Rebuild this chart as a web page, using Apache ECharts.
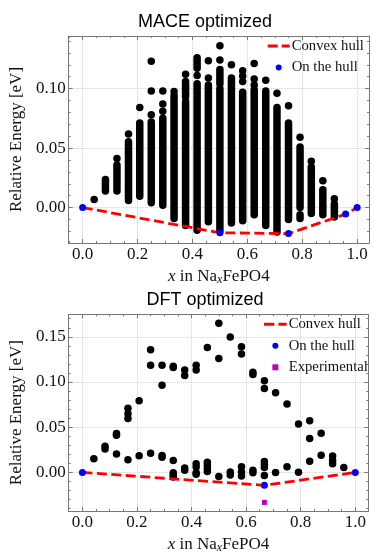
<!DOCTYPE html>
<html>
<head>
<meta charset="utf-8">
<script src="https://cdn.jsdelivr.net/npm/echarts@6/dist/echarts.min.js"></script>
<style>
  html, body { margin: 0; padding: 0; background: #fff; }
  #chart { width: 372px; height: 555px; }
</style>
</head>
<body>
<div id="chart"></div>
<script>
// MACE optimized: dense columns are drawn as runs (low..high), plus loose points
const maceRunX    = [0.083, 0.125, 0.167, 0.208, 0.25, 0.292, 0.333, 0.375, 0.375, 0.417, 0.417, 0.458, 0.5, 0.5, 0.542, 0.583, 0.625, 0.667, 0.708, 0.75, 0.792, 0.792, 0.833, 0.875, 0.917];
const maceRunLow  = [0.014, 0.014, 0.006, 0.0095, 0.004, 0.002, -0.0093, 0.093, -0.015, 0.117, -0.019, -0.012, 0.104, -0.020, -0.013, -0.011, -0.006, -0.015, -0.0205, -0.010, 0.000, -0.0093, -0.0051, -0.006, -0.0079];
const maceRunHigh = [0.0236, 0.0357, 0.0553, 0.071, 0.072, 0.075, 0.094, 0.106, 0.089, 0.126, 0.104, 0.103, 0.116, 0.100, 0.109, 0.097, 0.099, 0.098, 0.084, 0.071, 0.051, -0.006, 0.034, 0.015, 0.003];

const maceDotX = [0.042, 0.125, 0.167, 0.208, 0.25, 0.25, 0.25, 0.292, 0.292, 0.292, 0.333, 0.375, 0.417, 0.458, 0.458, 0.5, 0.5, 0.542, 0.583, 0.583, 0.583, 0.625, 0.625, 0.625, 0.667, 0.708, 0.75, 0.792, 0.833, 0.875, 0.917];
const maceDotY = [0.0067, 0.0413, 0.0618, 0.084, 0.123, 0.098, 0.078, 0.098, 0.087, 0.081, 0.0975, 0.112, 0.111, 0.1235, 0.109, 0.136, 0.124, 0.120, 0.115, 0.1105, 0.106, 0.121, 0.108, 0.103, 0.107, 0.096, 0.0855, 0.059, 0.039, 0.0225, 0.0075];

const maceHullX = [0, 0.5, 0.75, 0.958, 1];
const maceHullY = [0, -0.0212, -0.0219, -0.0055, 0];

// DFT optimized
const dftX = [0.042, 0.083, 0.083, 0.125, 0.125, 0.125, 0.167, 0.167, 0.167, 0.167, 0.208, 0.208,
  0.25, 0.25, 0.25, 0.292, 0.292, 0.292, 0.292, 0.333, 0.333, 0.333, 0.333, 0.333, 0.333,
  0.375, 0.375, 0.375, 0.375, 0.417, 0.417, 0.417, 0.417, 0.417, 0.417, 0.458, 0.458, 0.458, 0.458, 0.458,
  0.5, 0.5, 0.5, 0.542, 0.542, 0.542, 0.583, 0.583, 0.583, 0.583, 0.583, 0.625, 0.625, 0.625, 0.625,
  0.667, 0.667, 0.667, 0.667, 0.667, 0.667, 0.708, 0.708, 0.75, 0.75, 0.792, 0.792,
  0.833, 0.833, 0.833, 0.875, 0.875, 0.917, 0.917, 0.917, 0.958];
const dftY = [0.015, 0.029, 0.026, 0.043, 0.041, 0.0204, 0.0711, 0.065, 0.0597, 0.0139, 0.0793, 0.0185,
  0.1356, 0.1186, 0.0211, 0.1186, 0.0965, 0.0186, 0.0168, 0.1175, 0.116, 0.0133, -0.0004, -0.0029, -0.005,
  0.1133, 0.1072, 0.005, 0.0025, 0.1186, 0.1133, 0.0096, 0.0061, -0.0004, -0.002, 0.1383, 0.0112, 0.008, 0.0045, 0.001,
  0.1651, 0.126, -0.0046, 0.1497, 0.0005, -0.0029, 0.1389, 0.1311, 0.0062, 0.0005, -0.004, 0.1107, 0.1082, 0.0025, -0.0004,
  0.1013, 0.0927, 0.0121, 0.0089, 0.0054, -0.0035, 0.0882, -0.0002, 0.0757, 0.0062, 0.0536, 0.0002,
  0.0572, 0.0375, 0.0124, 0.0434, 0.0191, 0.0181, 0.0132, 0.0096, 0.0054];

const dftHullX = [0, 0.667, 1];
const dftHullY = [0, -0.0143, 0];
const expX = [0.667];
const expY = [-0.0332];

const serif = "Liberation Serif";
const frame = "#777";
const ink = "#111";

const zip = (xs, ys) => xs.map((x, i) => [x, ys[i]]);
const onStep = (v, step) => Math.abs(v / step - Math.round(v / step)) < 1e-6;

function xAxes(grid, min, max) {
  const common = {
    type: "value", gridIndex: grid, min, max,
    splitNumber: 5, minInterval: 0.2, maxInterval: 0.2,
    axisLine: { show: true, onZero: false, lineStyle: { color: frame, width: 1 } },
    axisTick: { show: true, inside: true, length: 4, lineStyle: { color: frame } },
    minorTick: { show: true, splitNumber: 4, length: 2, lineStyle: { color: frame } },
  };
  return [
    {
      ...common, position: "bottom",
      axisLabel: {
        margin: 3, color: ink, fontFamily: serif, fontSize: 17,
        formatter: (v) => (onStep(v, 0.2) ? v.toFixed(1) : ""),
      },
      splitLine: { show: true, lineStyle: { color: "#cfcfcf", type: "dotted", width: 1 } },
      name: "{i|x} in Na{s|x}FePO4", nameLocation: "middle", nameGap: 24,
      nameTextStyle: {
        color: ink, fontFamily: serif, fontSize: 17,
        rich: {
          i: { fontStyle: "italic", fontFamily: serif, fontSize: 17, color: ink },
          s: { fontStyle: "italic", fontFamily: serif, fontSize: 12, color: ink, padding: [7, 0, 0, 0] },
        },
      },
    },
    { ...common, position: "top", axisLabel: { show: false }, splitLine: { show: false } },
  ];
}

function yAxes(grid, min, max) {
  const common = {
    type: "value", gridIndex: grid, min, max,
    splitNumber: 4, minInterval: 0.05, maxInterval: 0.05,
    axisLine: { show: true, onZero: false, lineStyle: { color: frame, width: 1 } },
    axisTick: { show: true, inside: true, length: 4, lineStyle: { color: frame } },
    minorTick: { show: true, splitNumber: 5, length: 2, lineStyle: { color: frame } },
  };
  return [
    {
      ...common, position: "left",
      axisLabel: {
        margin: 3, color: ink, fontFamily: serif, fontSize: 17,
        formatter: (v) => (onStep(v, 0.05) ? v.toFixed(2) : ""),
      },
      splitLine: { show: true, lineStyle: { color: "#cfcfcf", type: "dotted", width: 1 } },
      name: "Relative Energy [eV]", nameLocation: "middle", nameGap: 36,
      nameTextStyle: { color: ink, fontFamily: serif, fontSize: 17 },
    },
    { ...common, position: "right", axisLabel: { show: false }, splitLine: { show: false } },
  ];
}

const hullLine = { width: 2.8, color: "#ff0000", type: [10, 4.5] };
const dashIcon = "path://M0,0h10v3h-10zM14,0h8v3h-8z";
const squareIcon = "path://M0,0h6v6h-6z";

function legendFor(left, top, itemWidth, withExp) {
  const items = [
    { name: "Convex hull", icon: dashIcon, itemStyle: { color: "#ff0000", borderWidth: 0 } },
    { name: "On the hull", icon: "circle", itemStyle: { color: "#0000ff", borderWidth: 0 } },
  ];
  if (withExp) items.push({ name: "Experimental", icon: squareIcon, itemStyle: { color: "#bf00bf", borderWidth: 0 } });
  return {
    left, top, orient: "vertical", padding: 0,
    itemWidth, itemHeight: 6, itemGap: 6.5, selectedMode: false, symbolKeepAspect: true,
    textStyle: { fontFamily: serif, fontSize: 14.7, color: ink, padding: [0, 0, 0, -3] },
    data: items,
  };
}

const dot = (color) => ({ color, opacity: 1, borderWidth: 0 });
const titleStyle = { fontFamily: "Liberation Sans", fontSize: 18, fontWeight: "normal", color: "#000" };

const chart = echarts.init(document.getElementById("chart"), null, { renderer: "canvas" });

chart.setOption({
  animation: false,
  backgroundColor: "#fff",
  title: [
    { text: "MACE optimized", left: 205, top: 13, textAlign: "center", padding: 0, textStyle: titleStyle },
    { text: "DFT optimized", left: 205, top: 291.5, textAlign: "center", padding: 0, textStyle: titleStyle },
  ],
  legend: [legendFor(267.7, 38.5, 22, false), legendFor(264, 316.8, 22.7, true)],
  grid: [
    { left: 62.3, top: 36, width: 309.2, height: 207, containLabel: false },
    { left: 62.7, top: 314.3, width: 305.6, height: 204.4, containLabel: false },
  ],
  xAxis: [...xAxes(0, -0.051, 1.0432), ...xAxes(1, -0.0503, 1.0478)],
  yAxis: [...yAxes(0, -0.0298, 0.1442), ...yAxes(1, -0.0427, 0.1749)],
  series: [
    {
      type: "custom", name: "MACE runs", xAxisIndex: 0, yAxisIndex: 0, z: 2,
      encode: { x: 0, y: [1, 2] },
      data: maceRunX.map((x, i) => [x, maceRunLow[i], maceRunHigh[i]]),
      renderItem: (params, api) => {
        const a = api.coord([api.value(0), api.value(1)]);
        const b = api.coord([api.value(0), api.value(2)]);
        return {
          type: "line",
          shape: { x1: a[0], y1: a[1], x2: b[0], y2: b[1] },
          style: { stroke: "#000", lineWidth: 7.5, lineCap: "round" },
        };
      },
    },
    {
      type: "scatter", name: "MACE points", xAxisIndex: 0, yAxisIndex: 0, z: 2,
      symbolSize: 7.5, itemStyle: dot("#000"), data: zip(maceDotX, maceDotY),
    },
    {
      type: "line", name: "Convex hull", xAxisIndex: 0, yAxisIndex: 0, z: 3,
      symbol: "none", lineStyle: hullLine, itemStyle: { color: "#ff0000" },
      data: zip(maceHullX, maceHullY),
    },
    {
      type: "scatter", name: "On the hull", xAxisIndex: 0, yAxisIndex: 0, z: 4,
      symbolSize: 7, itemStyle: dot("#0000ff"), data: zip(maceHullX, maceHullY),
    },
    {
      type: "scatter", name: "DFT points", xAxisIndex: 2, yAxisIndex: 2, z: 2,
      symbolSize: 7.5, itemStyle: dot("#000"), data: zip(dftX, dftY),
    },
    {
      type: "line", name: "Convex hull", xAxisIndex: 2, yAxisIndex: 2, z: 3,
      symbol: "none", lineStyle: hullLine, itemStyle: { color: "#ff0000" },
      data: zip(dftHullX, dftHullY),
    },
    {
      type: "scatter", name: "On the hull", xAxisIndex: 2, yAxisIndex: 2, z: 4,
      symbolSize: 7, itemStyle: dot("#0000ff"), data: zip(dftHullX, dftHullY),
    },
    {
      type: "scatter", name: "Experimental", xAxisIndex: 2, yAxisIndex: 2, z: 4,
      symbol: "rect", symbolSize: 5, itemStyle: dot("#bf00bf"), data: zip(expX, expY),
    },
  ],
});
</script>
</body>
</html>
